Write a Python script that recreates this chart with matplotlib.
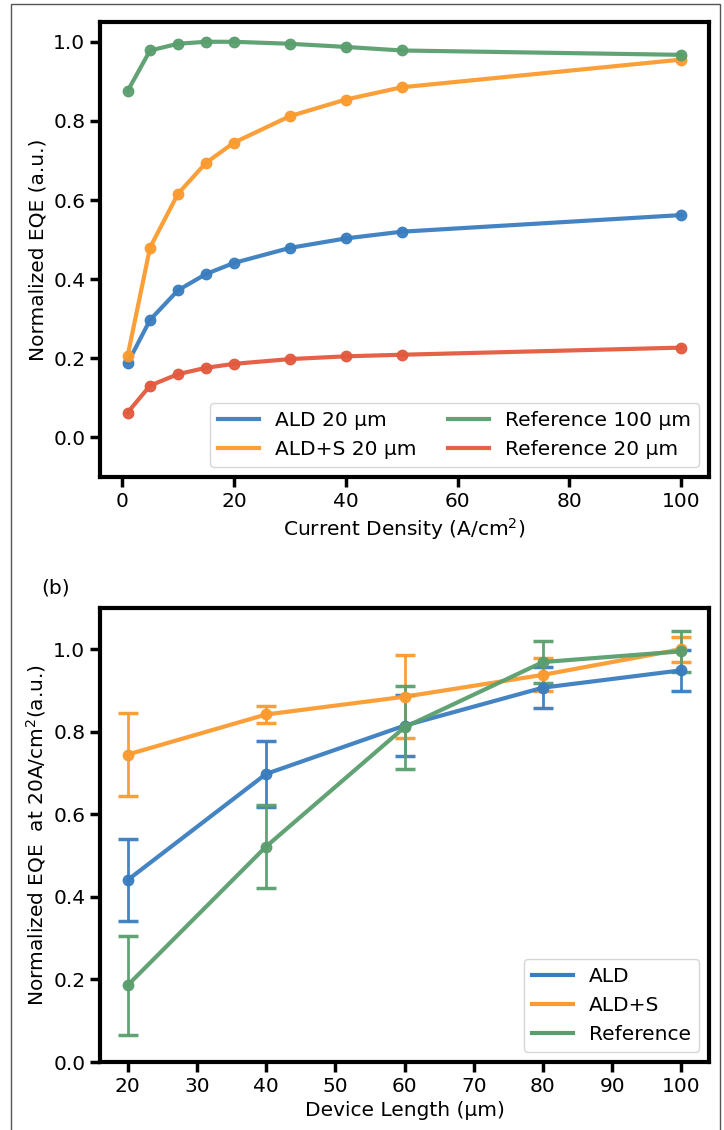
import numpy as np
import matplotlib
matplotlib.use("Agg")
import matplotlib.pyplot as plt

# (a) normalized EQE vs current density
j = [1, 5, 10, 15, 20, 30, 40, 50, 100]
ald_20 = [0.188, 0.297, 0.372, 0.413, 0.441, 0.479, 0.503, 0.520, 0.562]
alds_20 = [0.207, 0.480, 0.616, 0.694, 0.745, 0.812, 0.854, 0.885, 0.955]
ref_100 = [0.876, 0.978, 0.995, 1.000, 1.000, 0.995, 0.987, 0.978, 0.967]
ref_20 = [0.063, 0.131, 0.160, 0.176, 0.186, 0.198, 0.205, 0.209, 0.227]

# (b) EQE at 20 A/cm2 vs device length
length = [20, 40, 60, 80, 100]
ald = [0.441, 0.698, 0.815, 0.907, 0.949]
ald_err = [0.10, 0.08, 0.073, 0.05, 0.05]
alds = [0.745, 0.842, 0.885, 0.938, 1.000]
alds_err = [0.10, 0.02, 0.10, 0.04, 0.03]
ref = [0.186, 0.522, 0.811, 0.969, 0.995]
ref_err = [0.12, 0.10, 0.10, 0.05, 0.05]

c_blue = "#3a7dbf"
c_orange = "#fb9a2e"
c_green = "#5a9e6e"
c_red = "#e2593e"

plt.rcParams["font.family"] = "DejaVu Sans"
plt.rcParams["font.size"] = 14.5

fig = plt.figure(figsize=[7.24, 11.3], dpi=100)

# thin frame around the whole picture
frame = plt.Rectangle((11 / 724, -0.01), 709 / 724, 1.01 - 4 / 1130, transform=fig.transFigure,
                      fill=False, edgecolor="#555555", linewidth=1.0)
fig.patches.append(frame)

ax1 = fig.add_axes([100 / 724, 1 - 477 / 1130, 609 / 724, 455 / 1130])
ax2 = fig.add_axes([100 / 724, 1 - 1062 / 1130, 609 / 724, 454 / 1130])

kw = dict(marker="o", markersize=7.5, linewidth=3, alpha=0.95)
ax1.plot(j, ald_20, color=c_blue, label="ALD 20 µm", **kw)
ax1.plot(j, alds_20, color=c_orange, label="ALD+S 20 µm", **kw)
ax1.plot(j, ref_100, color=c_green, label="Reference 100 µm", **kw)
ax1.plot(j, ref_20, color=c_red, label="Reference 20 µm", **kw)
ax1.set_ylim(-0.1, 1.05)
ax1.set_xlabel("Current Density (A/cm$^2$)")
ax1.set_ylabel("Normalized EQE (a.u.)")
ax1.legend(loc="lower right", ncol=2, fontsize=14.5, handlelength=2.0, columnspacing=1.6)

ekw = dict(marker="o", markersize=7.5, linewidth=3, elinewidth=2, capsize=7, capthick=2.5, alpha=0.95)
ax2.errorbar(length, ald, yerr=ald_err, color=c_blue, label="ALD", **ekw)
ax2.errorbar(length, alds, yerr=alds_err, color=c_orange, label="ALD+S", **ekw)
ax2.errorbar(length, ref, yerr=ref_err, color=c_green, label="Reference", **ekw)
ax2.set_ylim(0, 1.1)
ax2.set_xticks([20, 30, 40, 50, 60, 70, 80, 90, 100])
ax2.set_xlabel("Device Length (µm)")
ax2.set_ylabel("Normalized EQE  at 20A/cm$^2$(a.u.)")
h, l = ax2.get_legend_handles_labels()
ax2.legend([plt.Line2D([], [], color=c, linewidth=3) for c in [c_blue, c_orange, c_green]], l,
           loc="lower right", fontsize=14.5, handlelength=2.0)

for ax in [ax1, ax2]:
    for s in ax.spines.values():
        s.set_linewidth(3)
    ax.tick_params(width=2.5, length=7, labelsize=14.5)

for lh in ax1.legend_.legend_handles:
    lh.set_marker("")
    lh.set_linewidth(3)

fig.text(41 / 724, 1 - 588 / 1130, "(b)", fontsize=14.5, va="center", ha="left")

plt.savefig("out.png", dpi=100)
